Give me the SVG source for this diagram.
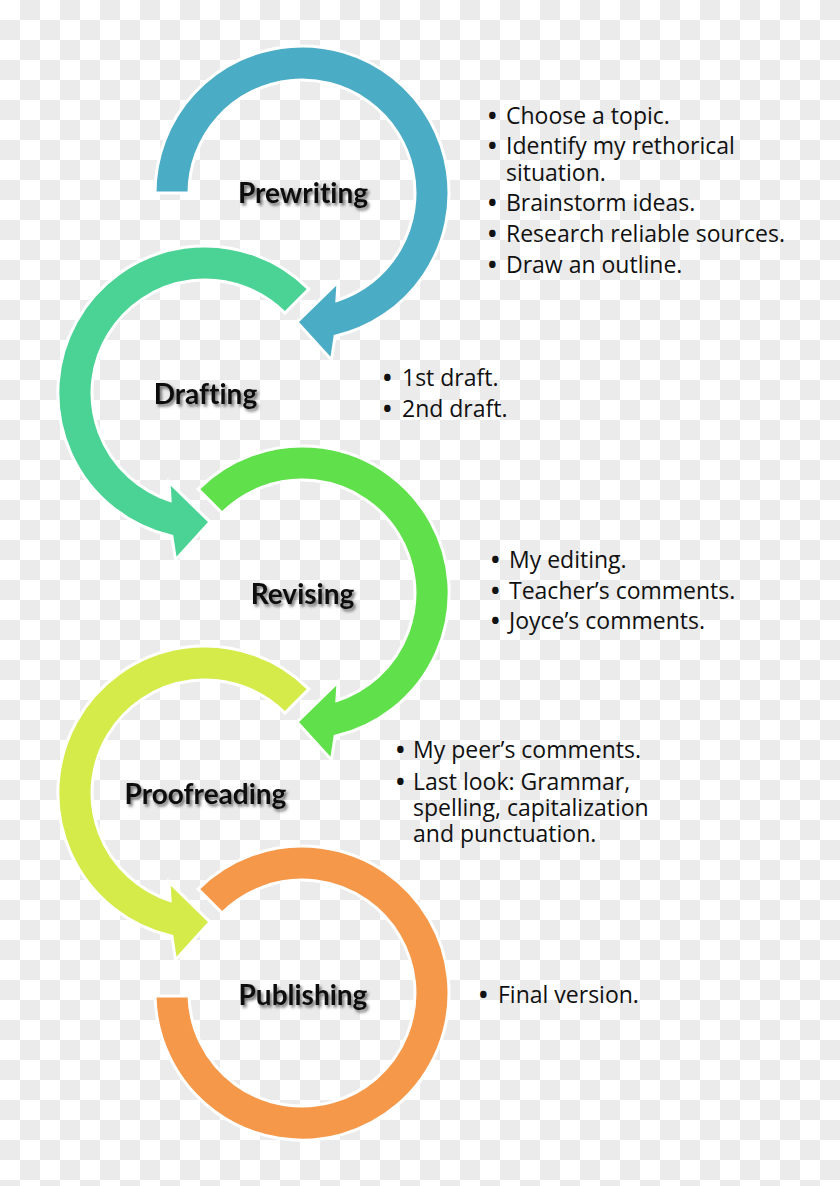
<svg xmlns="http://www.w3.org/2000/svg" xmlns:xlink="http://www.w3.org/1999/xlink" width="840" height="1186" viewBox="0 0 840 1186">
  <defs>
    <pattern id="checker" width="40" height="40" patternUnits="userSpaceOnUse">
      <rect width="40" height="40" fill="#ffffff"/>
      <rect x="20" y="0" width="20" height="20" fill="#ebebeb"/>
      <rect x="0" y="20" width="20" height="20" fill="#ebebeb"/>
    </pattern>
    <filter id="shadow" x="-20%" y="-40%" width="140%" height="180%">
      <feDropShadow dx="2" dy="2.5" stdDeviation="1.6" flood-color="#000" flood-opacity="0.55"/>
    </filter>
    <!-- ring starting at 180 deg, clockwise, arrowhead at bottom -->
    <path id="arrowStart180" d="M -147,0 A 147,147 0 1,1 33.1,143.2 L 29.5,167 L -5,129 L 36,89 L 34.9,107.5 A 113,113 0 1,0 -113,0 Z"/>
    <!-- ring starting at 225 deg, clockwise, arrowhead at bottom -->
    <path id="arrowStart225" d="M -103.9,-103.9 A 147,147 0 1,1 33.1,143.2 L 29.5,167 L -5,129 L 36,89 L 34.9,107.5 A 113,113 0 1,0 -79.9,-79.9 Z"/>
    <!-- final ring without arrowhead -->
    <path id="ringEnd" d="M -103.9,-103.9 A 147,147 0 1,1 -147,3 L -113,3 A 113,113 0 1,0 -79.9,-79.9 Z"/>
  </defs>
  <style>
    .ring { stroke: #ffffff; stroke-width: 3; stroke-linejoin: miter; }
    .label { font-family: Lato, "Liberation Sans", sans-serif; font-weight: 700; font-size: 28px; fill: #111111; text-anchor: middle; filter: url(#shadow); font-variant-ligatures: none; font-feature-settings: "liga" 0, "clig" 0; }
    .note { font-family: "Open Sans", "Noto Sans", sans-serif; font-size: 23px; fill: #111111; }
    .b { font-weight: 700; }
  </style>

  <rect width="840" height="1186" fill="url(#checker)"/>

  <g id="connectors"></g>

  <g id="prewriting">
    <use xlink:href="#arrowStart180" href="#arrowStart180" class="ring" fill="#4bacc6" transform="translate(302,193)"/>
    <text class="label" x="303" y="203">Prewriting</text>
    <text class="note" y="124"><tspan class="b" x="488">•</tspan><tspan x="506">Choose a topic.</tspan></text>
    <text class="note" y="154"><tspan class="b" x="488">•</tspan><tspan x="506">Identify my rethorical</tspan><tspan x="506" y="181">situation.</tspan></text>
    <text class="note" y="211"><tspan class="b" x="488">•</tspan><tspan x="506">Brainstorm ideas.</tspan></text>
    <text class="note" y="242"><tspan class="b" x="488">•</tspan><tspan x="506">Research reliable sources.</tspan></text>
    <text class="note" y="273"><tspan class="b" x="488">•</tspan><tspan x="506">Draw an outline.</tspan></text>
  </g>

  <g id="drafting">
    <use xlink:href="#arrowStart225" href="#arrowStart225" class="ring" fill="#4ad394" transform="translate(205,393) scale(-1,1)"/>
    <text class="label" x="205.5" y="404">Drafting</text>
    <text class="note" y="386"><tspan class="b" x="383">•</tspan><tspan x="402">1st draft.</tspan></text>
    <text class="note" y="417"><tspan class="b" x="383">•</tspan><tspan x="402">2nd draft.</tspan></text>
  </g>

  <g id="revising">
    <use xlink:href="#arrowStart225" href="#arrowStart225" class="ring" fill="#60e04b" transform="translate(302,593)"/>
    <text class="label" x="302.5" y="604">Revising</text>
    <text class="note" y="568"><tspan class="b" x="491">•</tspan><tspan x="509">My editing.</tspan></text>
    <text class="note" y="599"><tspan class="b" x="491">•</tspan><tspan x="509">Teacher’s comments.</tspan></text>
    <text class="note" y="629"><tspan class="b" x="491">•</tspan><tspan x="509">Joyce’s comments.</tspan></text>
  </g>

  <g id="proofreading">
    <use xlink:href="#arrowStart225" href="#arrowStart225" class="ring" fill="#d5eb49" transform="translate(205,793) scale(-1,1)"/>
    <text class="label" x="205.5" y="804">Proofreading</text>
    <text class="note" y="758"><tspan class="b" x="396">•</tspan><tspan x="413">My peer’s comments.</tspan></text>
    <text class="note" y="790"><tspan class="b" x="396">•</tspan><tspan x="413">Last look: Grammar,</tspan><tspan x="413" y="816">spelling, capitalization</tspan><tspan x="413" y="842">and punctuation.</tspan></text>
  </g>

  <g id="publishing">
    <use xlink:href="#ringEnd" href="#ringEnd" class="ring" fill="#f5984a" transform="translate(302,993)"/>
    <text class="label" x="303" y="1005">Publishing</text>
    <text class="note" y="1003"><tspan class="b" x="479">•</tspan><tspan x="498">Final version.</tspan></text>
  </g>
</svg>
